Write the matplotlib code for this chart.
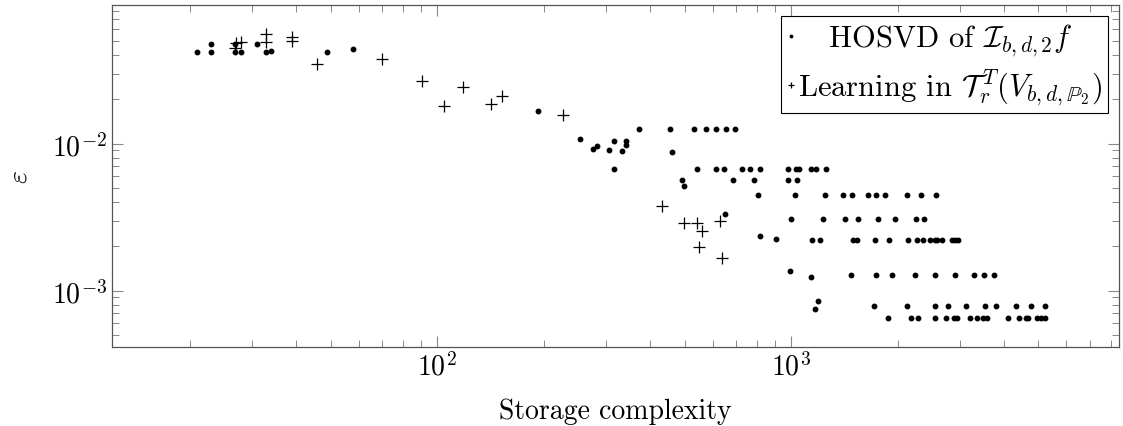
import matplotlib
matplotlib.use("Agg")
import matplotlib.pyplot as plt
import numpy as np

plt.rcParams['font.family'] = 'cmr10'
plt.rcParams['mathtext.fontset'] = 'cm'
plt.rcParams['axes.formatter.use_mathtext'] = True

# HOSVD of I_{b,d,2} f : (storage complexity, error)
hosvd_x = [20.9, 22.9, 22.9, 26.8, 26.8, 27.9, 30.9, 32.8, 33.8, 48.9, 57.8,
           192.6,
           254.0, 275.9, 283.4, 305.8, 316.5, 316.5, 332.1, 340.5, 340.5,
           372.5, 453.4, 533.0, 573.3, 613.8, 653.6, 695.8,
           459.9, 492.7, 497.3,
           541.3, 613.8, 644.4, 725.5, 764.3, 817.3, 982.6, 1033, 1053, 1139, 1173, 1256,
           687, 783.4, 982.6, 1038,
           806.7, 1023, 1248, 1403, 1488, 1651, 1743, 1838, 2124, 2336, 2566,
           652,
           1000, 1232, 1418, 1550, 1759, 1968, 2256, 2383,
           819, 908.9,
           1149, 1208, 1495, 1534, 1728, 1896, 2146, 2267, 2358, 2472, 2559, 2592,
           2668, 2858, 2914, 2972,
           995.5, 1139,
           1478, 1736, 1934, 2242, 2549, 2909, 3285, 3521, 3757,
           1195, 1171,
           1720, 2124, 2549, 2780, 3131, 3537, 3791, 4326, 4771, 5210,
           1877, 2188, 2290, 2559, 2738, 2880, 2947, 3207, 3350, 3483, 3575,
           4102, 4398, 4603, 4662, 4951, 5082, 5236]
hosvd_y = [0.0418, 0.0479, 0.0422, 0.0479, 0.0422, 0.0422, 0.0479, 0.0422, 0.0427, 0.0422, 0.0443,
           0.01677,
           0.01073, 0.00916, 0.00968, 0.00902, 0.01038, 0.00673, 0.00888, 0.01038, 0.00984,
           0.01265, 0.01265, 0.01265, 0.01265, 0.01265, 0.01265, 0.01265,
           0.00878, 0.00569, 0.00516,
           0.0067, 0.0067, 0.0067, 0.0067, 0.0067, 0.0067, 0.0067, 0.0067, 0.0067, 0.0067, 0.0067, 0.0067,
           0.00569, 0.00569, 0.00569, 0.00569,
           0.00451, 0.00451, 0.00451, 0.00451, 0.00451, 0.00451, 0.00451, 0.00451, 0.00451, 0.00451, 0.00451,
           0.00331,
           0.003075, 0.003075, 0.003075, 0.003075, 0.003075, 0.003075, 0.003075, 0.003075,
           0.002366, 0.002259,
           0.002223, 0.002223, 0.002223, 0.002223, 0.002223, 0.002223, 0.002223, 0.002223, 0.002223,
           0.002223, 0.002223, 0.002223, 0.002223, 0.002223, 0.002223, 0.002223,
           0.001368, 0.001234,
           0.001285, 0.001285, 0.001285, 0.001285, 0.001285, 0.001285, 0.001285, 0.001285, 0.001285,
           0.000855, 0.000751,
           0.000793, 0.000793, 0.000793, 0.000793, 0.000793, 0.000793, 0.000793, 0.000793, 0.000793, 0.000793,
           0.00065, 0.00065, 0.00065, 0.00065, 0.00065, 0.00065, 0.00065, 0.00065, 0.00065, 0.00065, 0.00065,
           0.00065, 0.00065, 0.00065, 0.00065, 0.00065, 0.00065, 0.00065]

# Learning in T_r^T(V_{b,d,P2})
learn_x = [26.97, 27.92, 26.8, 32.78, 32.78, 38.76, 38.76, 45.79, 69.64, 90.35,
           104.5, 118.5, 141.6, 152.7, 227.1,
           432.6, 498.3, 541.3, 561.4, 550.6, 628.6, 639.4]
learn_y = [0.0482, 0.0494, 0.0451, 0.0558, 0.0494, 0.0534, 0.0502, 0.03485, 0.0377, 0.0267,
           0.01791, 0.02419, 0.01863, 0.02121, 0.01576,
           0.003769, 0.002902, 0.002888, 0.002547, 0.001992, 0.002966, 0.001661]

fig = plt.figure(figsize=(11.23, 4.27), dpi=100)
ax = fig.add_axes([0.0993, 0.1857, 0.8971, 0.8003])

ax.plot(hosvd_x, hosvd_y, linestyle='none', marker='o', ms=3.2, color='black',
        label=r'   HOSVD of $\mathcal{I}_{b,d,2}f$')
ax.plot(learn_x, learn_y, linestyle='none', marker='+', ms=9, mew=0.9, color='black',
        label=r'Learning in $\mathcal{T}_r^{\,T}(V_{b,d,\mathbb{P}_2})$')

ax.set_xscale('log')
ax.set_yscale('log')
ax.set_xlim(12.0, 8450)
ax.set_ylim(4.16e-4, 0.0878)

ax.set_xlabel('Storage complexity', fontsize=20, labelpad=12)
ax.set_ylabel(r'$\varepsilon$', fontsize=20, labelpad=14)

for s in ax.spines.values():
    s.set_color('#555555')
    s.set_linewidth(0.9)
ax.tick_params(which='both', direction='in', top=True, right=True,
               color='#888888', labelsize=20)
ax.tick_params(which='major', length=8, width=0.8)
ax.tick_params(which='minor', length=5, width=0.7)

leg = ax.legend(loc='upper right', fontsize=22, frameon=True, fancybox=False,
                edgecolor='black', framealpha=1, handlelength=0.25,
                handletextpad=0.1, borderpad=0.2, labelspacing=0.3,
                borderaxespad=0.35, markerscale=0.55)
leg.get_frame().set_linewidth(0.8)

fig.savefig('out.png', dpi=100)
